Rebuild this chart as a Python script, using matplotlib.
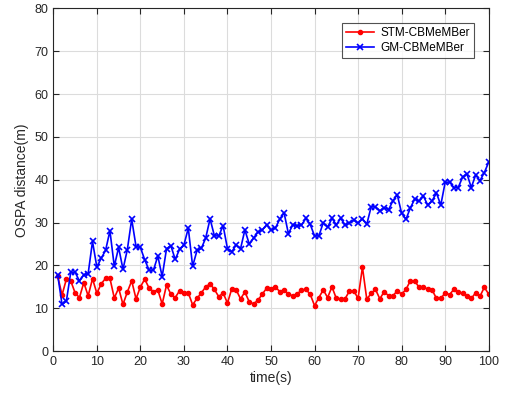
import numpy as np
import matplotlib
matplotlib.use("Agg")
import matplotlib.pyplot as plt

plt.rcParams['font.family'] = ['Liberation Sans', 'DejaVu Sans']

t = list(range(1, 101))
stm = [17.5, 13.1, 16.8, 16.4, 13.6, 12.5, 16.0, 12.9, 16.9, 13.5,
       15.7, 17.0, 17.0, 12.4, 14.7, 10.9, 13.8, 16.4, 12.2, 15.0,
       16.8, 14.7, 13.9, 14.3, 11.0, 15.4, 13.3, 12.5, 14.1, 13.6,
       13.6, 10.8, 12.3, 13.6, 15.0, 15.7, 14.4, 12.7, 13.6, 11.2,
       14.6, 14.3, 12.2, 13.8, 11.5, 11.0, 11.9, 13.3, 14.7, 14.5,
       15.0, 13.9, 14.3, 13.3, 12.9, 13.3, 14.3, 14.4, 13.3, 10.6,
       12.5, 14.3, 12.5, 15.0, 12.3, 12.2, 12.2, 14.0, 14.1, 12.3,
       19.6, 12.1, 13.5, 14.4, 12.2, 13.9, 12.9, 12.9, 14.1, 13.3,
       14.4, 16.4, 16.4, 14.9, 14.9, 14.5, 14.3, 12.3, 12.3, 13.6,
       13.2, 14.4, 13.7, 13.6, 12.9, 12.3, 13.6, 12.8, 14.9, 13.3]
gm = [17.8, 10.9, 11.7, 18.4, 18.4, 16.4, 17.8, 18.1, 25.6, 19.6,
      21.7, 23.5, 28.1, 19.8, 24.2, 19.1, 23.7, 30.8, 24.4, 24.2,
      21.3, 18.9, 18.9, 22.2, 17.4, 23.9, 24.6, 21.4, 23.8, 24.8,
      28.7, 19.8, 23.5, 24.0, 26.4, 30.9, 26.9, 26.9, 29.3, 23.9,
      23.2, 24.8, 23.9, 28.3, 25.0, 26.4, 27.8, 28.3, 29.5, 28.3,
      28.7, 30.8, 32.3, 27.4, 29.5, 29.3, 29.4, 31.0, 29.6, 26.9,
      26.9, 30.0, 28.9, 31.0, 29.5, 31.0, 29.5, 29.9, 30.6, 29.9,
      30.9, 29.6, 33.7, 33.7, 32.7, 33.5, 33.0, 35.1, 36.5, 32.2,
      30.8, 33.4, 35.5, 35.0, 36.2, 34.1, 35.1, 36.9, 34.1, 39.4,
      39.5, 38.2, 38.2, 40.6, 41.4, 38.2, 41.1, 39.8, 41.7, 44.1]

fig = plt.figure(figsize=(5.05, 3.97), dpi=100)
ax = fig.add_axes([0.1056, 0.1156, 0.8621, 0.863])

ax.plot(t, stm, color='#ff0000', marker='.', markersize=6, linewidth=1.2,
        label='STM-CBMeMBer')
ax.plot(t, gm, color='#0000ff', marker='x', markersize=5, markeredgewidth=1.2,
        linewidth=1.2, label='GM-CBMeMBer')

ax.set_xlim(0, 100)
ax.set_ylim(0, 80)
ax.set_xticks(np.arange(0, 101, 10))
ax.set_yticks(np.arange(0, 81, 10))
ax.grid(True, color='#dcdcdc', linewidth=0.8)
ax.set_axisbelow(True)
ax.tick_params(direction='in', top=True, right=True, labelsize=9, length=4,
               colors='#262626')
for s in ax.spines.values():
    s.set_color('#262626')
    s.set_linewidth(0.8)
ax.set_xlabel('time(s)', fontsize=10, color='#262626', labelpad=2)
ax.set_ylabel('OSPA distance(m)', fontsize=10, color='#262626', labelpad=4)

leg = ax.legend(loc='upper right', bbox_to_anchor=(0.966, 0.959), fontsize=8.5,
                frameon=True, fancybox=False, edgecolor='#262626',
                handlelength=2.4, borderpad=0.35, labelspacing=0.3,
                handletextpad=0.5, borderaxespad=0.0)
leg.get_frame().set_linewidth(0.8)

fig.savefig('out.png', dpi=100)
